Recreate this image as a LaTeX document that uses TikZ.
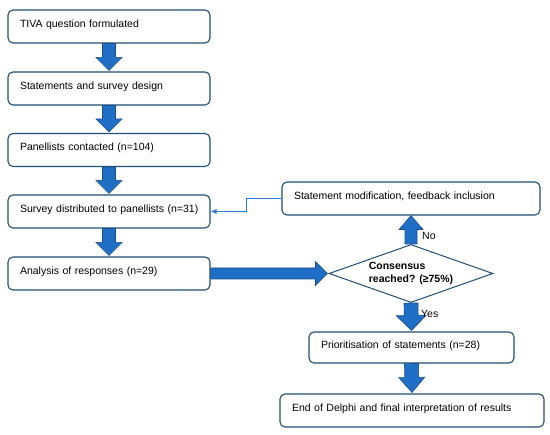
\documentclass[tikz,border=0pt]{standalone}
\usepackage{fontspec}
\setmainfont{Liberation Sans}
\usetikzlibrary{calc,shapes.geometric,arrows.meta}
\definecolor{boxline}{HTML}{1F4E79}
\definecolor{arrfill}{HTML}{1F6FC6}
\definecolor{arrline}{HTML}{1C4F8A}
\definecolor{thinblue}{HTML}{2C7BD4}
\newcommand\fatarrow[5]{%
  \path (#2) coordinate (fa-t) ($(#2)!#5!(#1)$) coordinate (fa-h);
  \filldraw[fatstyle] ($(#1)!#3!90:(fa-t)$) -- ($(fa-h)!#3!90:(fa-t)$) -- ($(fa-h)!#4!90:(fa-t)$) -- (fa-t) -- ($(fa-h)!#4!-90:(fa-t)$) -- ($(fa-h)!#3!-90:(fa-t)$) -- ($(#1)!#3!-90:(fa-t)$) -- cycle;}
\begin{document}
\begin{tikzpicture}[x=1pt,y=-1pt,
  every node/.style={font=\fontsize{10.5}{12.5}\selectfont},
  box/.style={draw=boxline,line width=1.1pt,rounded corners=5pt,fill=white,
    minimum height=33pt,inner xsep=12pt,inner ysep=0pt,align=left,
    text height=7.5pt,text depth=5.5pt,
    execute at begin node={\hbox\bgroup},execute at end node={\egroup}},
  fatstyle/.style={fill=arrfill,draw=arrline,line width=0.6pt,line join=miter},
  decision/.style={diamond,draw=boxline,line width=1pt,fill=white,shape aspect=2.83,
    minimum width=164pt,minimum height=58pt,inner sep=0pt,align=left,
    font=\fontsize{10.5}{12.5}\selectfont\bfseries},
  thin/.style={draw=thinblue,line width=1.4pt,-{Latex[length=6pt,width=5.5pt]}}]
\useasboundingbox (0,0) rectangle (550,435);
\node[box,text width=178pt] (b1) at (109,26.5) {TIVA question formulated};
\node[box,text width=178pt] (b2) at (109,88.5) {Statements and survey design};
\node[box,text width=178pt] (b3) at (109,150) {Panellists contacted (n=104)};
\node[box,text width=178pt] (b4) at (109,211.5) {Survey distributed to panellists (n=31)};
\node[box,text width=178pt] (b5) at (109,273.5) {Analysis of responses (n=29)};
\node[decision] (dia) at (411,273.5) {Consensus\\reached? (≥75\%)};
\node[box,text width=234pt] (sm) at (411,198.5) {Statement modification, feedback inclusion};
\node[box,text width=181pt,minimum height=31pt] (pr) at (411.5,347.5) {Prioritisation of statements (n=28)};
\node[box,text width=240pt] (en) at (412,410.5) {End of Delphi and final interpretation of results};
\fatarrow{b1.south}{$(b2.north)+(0,-1)$}{6.5pt}{13pt}{13pt}
\fatarrow{b2.south}{$(b3.north)+(0,-1)$}{6.5pt}{13pt}{13pt}
\fatarrow{b3.south}{$(b4.north)+(0,-1)$}{6.5pt}{13pt}{13pt}
\fatarrow{b4.south}{$(b5.north)+(0,-1)$}{6.5pt}{13pt}{13pt}
\fatarrow{b5.east}{$(dia.west)+(-1,0)$}{5.5pt}{12pt}{12pt}
\fatarrow{dia.north}{sm.south}{6pt}{12pt}{14pt}
\fatarrow{dia.south}{$(pr.north)+(0,-1)$}{7pt}{15pt}{15pt}
\fatarrow{pr.south}{$(en.north)+(0,-1)$}{7pt}{13pt}{15pt}
\draw[thin] (sm.west) -- ++(-35,0) coordinate (fb) |- (b4.east);
\node[anchor=west,inner sep=0pt] (no) at ($(dia.north)+(11,-8)$) {No};
\node[anchor=west,inner sep=0pt] (yes) at ($(dia.south)+(10,11)$) {Yes};
\end{tikzpicture}
\end{document}
